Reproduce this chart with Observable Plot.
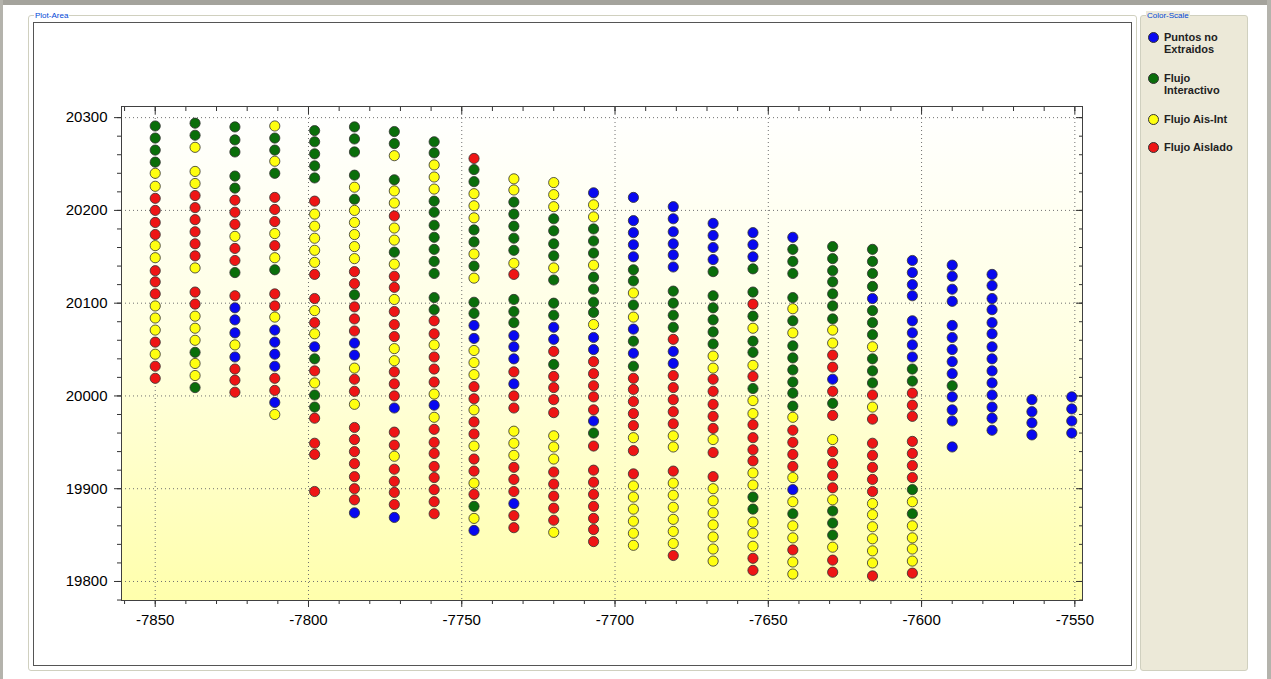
<!DOCTYPE html>
<html>
<head>
<meta charset="utf-8">
<script src="https://cdn.jsdelivr.net/npm/d3@7"></script>
<script src="https://cdn.jsdelivr.net/npm/@observablehq/plot@0.6"></script>
<style>
  html, body { margin: 0; padding: 0; }
  body { width: 1271px; height: 679px; position: relative; overflow: hidden; background: #ffffff; font-family: "Liberation Sans", Arial, sans-serif; }
  .topband { position: absolute; left: 0; top: 0; width: 1271px; height: 5px; background: #a4a39c; }
  .leftline { position: absolute; left: 0; top: 0; width: 3px; height: 679px; background: #b4b3ac; }
  .rightline { position: absolute; right: 0; top: 0; width: 4px; height: 679px; background: #b4b3ac; }
  .group { position: absolute; border: 1px solid #d0d0bf; border-radius: 3px; box-sizing: border-box; }
  .glabel { position: absolute; font-size: 8px; color: #0046d5; background: #fff; padding: 0 1px; line-height: 9px; }
  #panel { position: absolute; left: 33px; top: 22px; width: 1099px; height: 644px; background: #fff; border: 1px solid #555; box-sizing: border-box; }
  #chart { position: absolute; left: 0; top: 0; }
  .leg { position: absolute; left: 1148px; font-size: 11px; font-weight: bold; color: #222; line-height: 12px; }
  .leg .dot { position: absolute; left: 0; width: 9px; height: 9px; border-radius: 50%; border: 1px solid #333; }
  .leg .txt { position: absolute; left: 16px; white-space: nowrap; }
</style>
</head>
<body>
<svg width="0" height="0" style="position:absolute">
  <defs>
    <linearGradient id="bgGrad" x1="0" y1="0" x2="0" y2="1">
      <stop offset="0" stop-color="#ffffff"/>
      <stop offset="0.5" stop-color="#ffffe0"/>
      <stop offset="1" stop-color="#ffffac"/>
    </linearGradient>
  </defs>
</svg>
<div class="topband"></div>
<div class="leftline"></div>
<div class="rightline"></div>
<div class="group" style="left:28px;top:15px;width:1109px;height:656px;"></div>
<div class="glabel" style="left:34px;top:11px;">Plot-Area</div>
<div class="group" style="left:1140px;top:15px;width:108px;height:656px;background:#ece9d8;"></div>
<div class="glabel" style="left:1146px;top:11px;background:#ece9d8;">Color-Scale</div>
<div id="panel"></div>
<div id="chart"></div>
<div id="legend"></div>
<script>
// ---- categories ----
const categories = ["Puntos no Extraidos", "Flujo Interactivo", "Flujo Ais-Int", "Flujo Aislado"];
const catCodes = {B: "Puntos no Extraidos", G: "Flujo Interactivo", Y: "Flujo Ais-Int", R: "Flujo Aislado"};
const catColors = ["#0808f0", "#0a6e0a", "#ffff10", "#ee1515"];
const legendLabels = [["Puntos no", "Extraidos"], ["Flujo", "Interactivo"], ["Flujo Ais-Int"], ["Flujo Aislado"]];

// ---- column x positions ----
const colX = [-7850, -7837, -7824, -7811, -7798, -7785, -7772, -7759, -7746, -7733, -7720, -7707,
              -7694, -7681, -7668, -7655, -7642, -7629, -7616, -7603, -7590, -7577, -7564, -7551];

// ---- y values per column (top to bottom) ----
const y01 = [20291,20278,20265,20252,20240,20226,20213,20200,20187,20174,20162,20149,20135,20123,20110,20097,20084,20071,20058,20045,20032,20019];
const y02 = [20294,20281,20268,20242,20229,20216,20203,20190,20177,20164,20151,20138,20112,20099,20086,20073,20060,20047,20035,20022,20009];
const y03 = [20290,20276,20263,20237,20224,20211,20198,20185,20172,20159,20146,20133,20108,20095,20082,20068,20055,20042,20029,20017,20004];
const y04 = [20291,20278,20265,20253,20240,20214,20201,20188,20175,20162,20149,20136,20110,20097,20085,20071,20058,20045,20032,20019,20006,19993,19980];
const y05 = [20286,20274,20261,20248,20235,20210,20196,20183,20170,20157,20144,20131,20105,20092,20079,20067,20053,20040,20027,20014,20001,19988,19976,19949,19937,19897];
const y06 = [20290,20277,20263,20238,20225,20212,20200,20187,20174,20161,20148,20134,20121,20109,20096,20083,20070,20057,20044,20030,20018,20005,19991,19966,19953,19940,19927,19913,19900,19888,19874];
const y07 = [20285,20272,20259,20233,20221,20208,20194,20181,20168,20155,20142,20129,20117,20104,20091,20077,20064,20051,20038,20026,20013,20000,19987,19961,19947,19935,19921,19908,19896,19883,19869];
const y08 = [20274,20262,20249,20236,20223,20210,20198,20184,20171,20158,20145,20132,20106,20093,20081,20067,20055,20042,20029,20015,20002,19990,19977,19964,19950,19938,19924,19912,19899,19886,19873];
const y09 = [20256,20244,20231,20218,20205,20192,20179,20166,20153,20140,20127,20101,20089,20076,20062,20049,20036,20023,20010,19997,19985,19972,19959,19946,19932,19919,19906,19894,19881,19868,19855];
const y10 = [20234,20222,20209,20196,20183,20170,20157,20143,20131,20104,20091,20079,20065,20053,20040,20026,20013,20000,19987,19962,19949,19936,19923,19910,19897,19884,19871,19858];
const y11 = [20230,20217,20204,20191,20178,20164,20151,20138,20125,20100,20087,20074,20061,20048,20034,20021,20009,19996,19982,19957,19945,19932,19918,19905,19892,19879,19866,19853];
const y12 = [20219,20206,20193,20180,20167,20154,20141,20128,20115,20101,20090,20077,20063,20050,20037,20024,20011,19999,19985,19973,19960,19946,19920,19907,19894,19881,19868,19856,19843];
const y13 = [20214,20189,20176,20163,20150,20136,20124,20111,20098,20085,20072,20059,20046,20032,20019,20007,19994,19981,19968,19955,19941,19916,19903,19891,19878,19865,19852,19839];
const y14 = [20204,20191,20177,20164,20152,20139,20113,20100,20087,20074,20061,20048,20035,20022,20009,19996,19983,19970,19957,19945,19919,19906,19893,19880,19867,19854,19841,19828];
const y15 = [20186,20173,20160,20147,20134,20108,20095,20082,20069,20056,20043,20030,20018,20005,19991,19978,19965,19953,19939,19913,19900,19887,19874,19861,19848,19835,19822];
const y16 = [20176,20163,20150,20137,20112,20099,20086,20073,20059,20047,20033,20021,20008,19995,19981,19969,19955,19942,19930,19917,19904,19891,19878,19864,19852,19838,19825,19812];
const y17 = [20171,20158,20145,20132,20106,20094,20081,20068,20054,20041,20028,20015,20003,19989,19977,19963,19950,19937,19924,19912,19899,19886,19873,19860,19847,19834,19821,19808];
const y18 = [20161,20148,20135,20123,20110,20097,20083,20071,20057,20044,20031,20018,20005,19992,19979,19953,19940,19927,19914,19901,19888,19876,19863,19850,19837,19823,19810];
const y19 = [20158,20145,20132,20118,20105,20092,20079,20066,20053,20040,20027,20014,20001,19988,19975,19949,19936,19923,19910,19897,19884,19872,19859,19846,19833,19820,19806];
const y20 = [20146,20133,20120,20108,20081,20068,20055,20042,20029,20016,20003,19990,19978,19951,19938,19925,19912,19899,19886,19873,19860,19847,19835,19822,19809];
const y21 = [20141,20129,20115,20102,20076,20063,20050,20037,20024,20011,19999,19985,19973,19945];
const y22 = [20131,20119,20105,20093,20079,20067,20053,20040,20027,20014,20001,19988,19976,19963];
const y23 = [19996,19983,19971,19958];
const y24 = [19999,19986,19973,19960];

// ---- category codes per column (B=Puntos no Extraidos, G=Flujo Interactivo, Y=Flujo Ais-Int, R=Flujo Aislado) ----
const c01 = "GGGGYYRRRRYYRRRYYYRYRR";
const c02 = "GGYYYRRRRRRYRRYYYGYYG";
const c03 = "GGGGGRRRYRRGRBBBYBRRR";
const c04 = "YGGYGRRRYRYGRRYBBBBRRBY";
const c05 = "GGGGGRYYYYYRRYRYBGRYGGRRRR";
const c06 = "GGGGYGYYYYYRRGRRRBBYRRYRRRRRRRB";
const c07 = "GGYGYYRYYGYRRYRRRYYRRRBRRYRRRRB";
const c08 = "GGYYYGGGGGGGGGRRYRRRYBYRRRRRRRR";
const c09 = "RGGYYYGGYGYGGBBYYYRRYRRYRRYRGYB";
const c10 = "YYGGGGGYRGGGBBBRBRRYYYRRRBRR";
const c11 = "YYYGGGGYGGGBBRGRRRRYYYRRRRRY";
const c12 = "BYYGGGYGGGGYBBRRRRRBGRRRRRRRR";
const c13 = "BBBBBGGYGYBGBGRRRRRYRRYYYYYY";
const c14 = "BBBBBBGGGGRBBRRRRRYYRYYYYYYR";
const c15 = "BBBBGGGGGGYYRRRRRYRRYYYYYYY";
const c16 = "BBBGGRGYGGYRGYYRRRRYYGGYYYRR";
const c17 = "BGGGGYGYGGGGGGYRRRRYBYGYYRYY";
const c18 = "GGGGGGGYYRRBRGRYRRRRYGGGYRR";
const c19 = "GGGGBGGGYGGGRYRRRRRRYYYYYYR";
const c20 = "BBBBBBBBGGRRRRRRRGYGYYYYR";
const c21 = "BBBBBBBBBGBBBB";
const c22 = "BBBBBBBBBBBBBB";
const c23 = "BBBB";
const c24 = "BBBB";

// ---- axis ticks ----
const yTicks = [19800, 19900, 20000, 20100, 20200, 20300];
const xTicks = [-7850, -7800, -7750, -7700, -7650, -7600, -7550];

// build table
const colYs = [y01,y02,y03,y04,y05,y06,y07,y08,y09,y10,y11,y12,y13,y14,y15,y16,y17,y18,y19,y20,y21,y22,y23,y24];
const colCs = [c01,c02,c03,c04,c05,c06,c07,c08,c09,c10,c11,c12,c13,c14,c15,c16,c17,c18,c19,c20,c21,c22,c23,c24];
const points = [];
colX.forEach((x, i) => {
  colYs[i].forEach((y, j) => points.push({x, y, cat: catCodes[colCs[i][j]]}));
});

const xMinor = d3.range(-7860, -7545, 10);
const yMinor = d3.range(19780, 20320, 20);
const font = "Liberation Sans, Arial, sans-serif";
const ax = {label: null, stroke: "#333"};

const chart = Plot.plot({
  width: 1136,
  height: 668,
  marginLeft: 121,
  marginRight: 54,
  marginTop: 106,
  marginBottom: 68,
  style: {background: "transparent", fontFamily: font, fontSize: "15px", color: "#000", overflow: "visible"},
  x: {domain: [-7861, -7547.5], axis: null},
  y: {domain: [19779.5, 20312], axis: null},
  color: {domain: categories, range: catColors},
  marks: [
    Plot.frame({fill: "url(#bgGrad)", stroke: "none"}),
    Plot.gridX(xTicks, {stroke: "#707070", strokeOpacity: 1, strokeDasharray: "1,3", strokeWidth: 1}),
    Plot.gridY(yTicks, {stroke: "#707070", strokeOpacity: 1, strokeDasharray: "1,3", strokeWidth: 1}),
    // bottom axis
    Plot.axisX(xMinor, {...ax, anchor: "bottom", tickSize: 4, text: null}),
    Plot.axisX(xTicks, {...ax, anchor: "bottom", tickSize: 7, tickPadding: 7, tickFormat: d => String(d), fontSize: 15, fill: "#000"}),
    // top axis (inward ticks)
    Plot.axisX(xMinor, {...ax, anchor: "top", tickSize: -4, text: null}),
    Plot.axisX(xTicks, {...ax, anchor: "top", tickSize: -7, text: null}),
    // left axis
    Plot.axisY(yMinor, {...ax, anchor: "left", tickSize: 4, text: null}),
    Plot.axisY(yTicks, {...ax, anchor: "left", tickSize: 7, tickPadding: 7, tickFormat: d => String(d), fontSize: 15, fill: "#000"}),
    // right axis (inward ticks)
    Plot.axisY(yMinor, {...ax, anchor: "right", tickSize: -4, text: null}),
    Plot.axisY(yTicks, {...ax, anchor: "right", tickSize: -7, text: null}),
    Plot.dot(points, {x: "x", y: "y", fill: "cat", r: 5.1, stroke: "#303030", strokeWidth: 0.8}),
    Plot.frame({stroke: "#404040", strokeWidth: 1})
  ]
});
document.getElementById("chart").appendChild(chart);

// legend
const legTops = [31, 72, 113, 141];
const legend = document.getElementById("legend");
categories.forEach((c, i) => {
  const d = document.createElement("div");
  d.className = "leg";
  d.style.top = legTops[i] + "px";
  const dot = document.createElement("div");
  dot.className = "dot";
  dot.style.background = catColors[i];
  dot.style.top = "1px";
  const t = document.createElement("div");
  t.className = "txt";
  t.innerHTML = legendLabels[i].join("<br>");
  d.appendChild(dot); d.appendChild(t);
  legend.appendChild(d);
});
</script>
</body>
</html>
